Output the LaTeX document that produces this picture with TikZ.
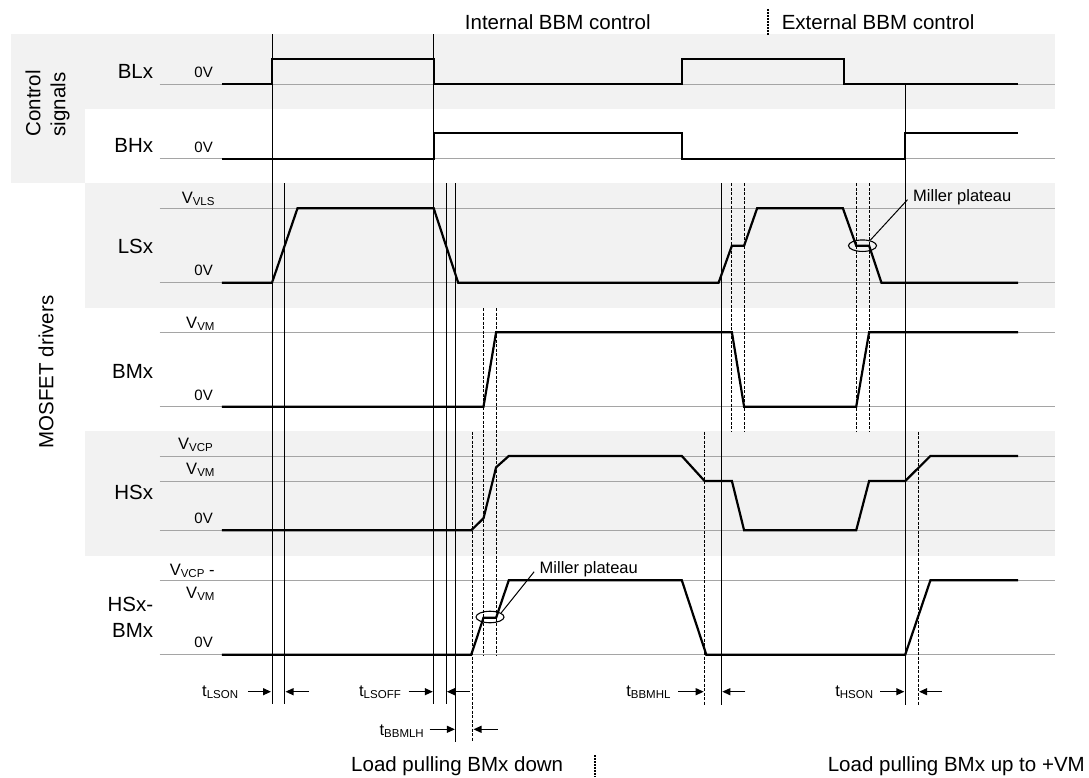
\documentclass[tikz,border=0pt]{standalone}
\usepackage{fontspec}
\setmainfont{Liberation Sans}
\usetikzlibrary{arrows.meta, shapes.geometric}
\definecolor{bandgray}{RGB}{242,242,242}
\definecolor{lvlgray}{RGB}{165,165,165}
\newcommand{\lowsub}[1]{\raisebox{-2pt}{\fontsize{11.5}{12}\selectfont #1}}

\begin{document}
\begin{tikzpicture}[x=1pt, y=-1pt,
  band/.style={fill=bandgray, draw=none},
  lvl/.style={draw=lvlgray, line width=0.9pt},
  wave/.style={draw=black, line width=2.2pt},
  vsolid/.style={draw=black, line width=0.8pt},
  vdash/.style={draw=black, line width=0.9pt, dash pattern=on 3pt off 1.5pt},
  sep/.style={draw=black, line width=1.8pt, dash pattern=on 2pt off 1pt},
  tarr/.style={-{Triangle[length=8pt, width=7pt]}, line width=1.2pt},
  mill/.style={ellipse, draw, line width=1.1pt, minimum width=28pt, minimum height=11.5pt, inner sep=0pt},
  big/.style={inner sep=0pt, font=\fontsize{20.5}{25}\selectfont},
  sname/.style={big, anchor=east, align=right},
  vlab/.style={anchor=base east, inner sep=0pt, font=\fontsize{16.5}{20}\selectfont},
  zlab/.style={anchor=east, inner sep=0pt, font=\fontsize{15}{17}\selectfont},
  tlab/.style={anchor=base east, inner sep=0pt, font=\fontsize{16.5}{20}\selectfont},
  mlab/.style={anchor=west, inner sep=3.5pt, font=\fontsize{16.5}{20}\selectfont}
]
\useasboundingbox (0,0) rectangle (1089,778);

% Background bands
\fill[band] (10.5,34.3) rectangle (1054.7,109);
\fill[band] (10.5,109) rectangle (85.3,183.3);
\fill[band] (85.3,183.3) rectangle (1054.7,307.7);
\fill[band] (85.3,431) rectangle (1054.7,555.7);

% Group labels
\node[big, rotate=90, align=left] (nCtl) at (47.5,103.3) {Control\\signals};
\node[big, rotate=90] (nMos) at (46,372) {MOSFET drivers};

% Level lines
\draw[lvl] (159.6,84.3) -- (1054.7,84.3);
\draw[lvl] (159.6,158.7) -- (1054.7,158.7);
\draw[lvl] (159.6,208.3) -- (1054.7,208.3);
\draw[lvl] (159.6,282.7) -- (1054.7,282.7);
\draw[lvl] (159.6,332.3) -- (1054.7,332.3);
\draw[lvl] (159.6,406.7) -- (1054.7,406.7);
\draw[lvl] (159.6,456) -- (1054.7,456);
\draw[lvl] (159.6,481) -- (1054.7,481);
\draw[lvl] (159.6,530.3) -- (1054.7,530.3);
\draw[lvl] (159.6,580.3) -- (1054.7,580.3);
\draw[lvl] (159.6,654.7) -- (1054.7,654.7);

% Signal names
\node[sname] (nBL) at (153.3,71.7) {BLx};
\node[sname] (nBH) at (153.3,145.7) {BHx};
\node[sname] (nLS) at (153.3,246.7) {LSx};
\node[sname] (nBM) at (153.3,371.7) {BMx};
\node[sname] (nHS) at (153.3,492.3) {HSx};
\node[sname, font=\fontsize{20.5}{26.5}\selectfont] (nHB) at (153.3,617.3) {HSx-\\BMx};

% Level labels
\node[zlab] (zBL) at (213,72.2) {0V};
\node[zlab] (zBH) at (213,147.5) {0V};
\node[zlab] (zLS) at (213,270.5) {0V};
\node[zlab] (zBM) at (213,395.3) {0V};
\node[zlab] (zHS) at (213,518.7) {0V};
\node[zlab] (zHB) at (213,642.5) {0V};
\node[vlab] (vLS) at (214.7,204) {V\lowsub{VLS}};
\node[vlab] (vBM) at (214.7,328.3) {V\lowsub{VM}};
\node[vlab] (vHSa) at (213,449.3) {V\lowsub{VCP}};
\node[vlab] (vHSb) at (214.7,474) {V\lowsub{VM}};
\node[vlab] (vHBa) at (214.7,575) {V\lowsub{VCP} -};
\node[vlab] (vHBb) at (214.7,598.3) {V\lowsub{VM}};

% Timing marks
\draw[vsolid] (272,34.3) -- (272,704);
\draw[vsolid] (284.6,183.3) -- (284.6,704);
\draw[vsolid] (433.7,34.3) -- (433.7,704);
\draw[vsolid] (446,183.3) -- (446,704);
\draw[vsolid] (455.8,183.3) -- (455.8,742);
\draw[vsolid] (721.4,183.3) -- (721.4,705);
\draw[vsolid] (905.2,84.3) -- (905.2,705);
\draw[vdash] (472.6,431.7) -- (472.6,742);
\draw[vdash] (483.5,308) -- (483.5,655);
\draw[vdash] (496.1,308) -- (496.1,655);
\draw[vdash] (704.6,431.7) -- (704.6,705);
\draw[vdash] (731.9,183.3) -- (731.9,431.7);
\draw[vdash] (744.1,183.3) -- (744.1,431.7);
\draw[vdash] (856.9,183.3) -- (856.9,431.7);
\draw[vdash] (869.1,183.3) -- (869.1,431.7);
\draw[vdash] (918.2,431.7) -- (918.2,705);

% Waveforms
\draw[wave] (221.8,84.3) -- (272,84.3) -- (272,59.3) -- (433.7,59.3) -- (433.7,84.3) -- (681.8,84.3)
  -- (681.8,59.3) -- (843.6,59.3) -- (843.6,84.3) -- (1018,84.3);
\draw[wave] (221.8,158.7) -- (433.7,158.7) -- (433.7,133.3) -- (681.8,133.3) -- (681.8,158.7)
  -- (905.2,158.7) -- (905.2,133.3) -- (1018,133.3);
\draw[wave] (221.8,282.7) -- (272,282.7) -- (297.5,208.3) -- (433.7,208.3) -- (458.2,282.7)
  -- (718.6,282.7) -- (731.9,245.7) -- (744.1,245.7) -- (757.1,208.3) -- (842.9,208.3)
  -- (856.2,245.7) -- (869.1,245.7) -- (881.4,282.7) -- (1018,282.7);
\draw[wave] (221.8,406.7) -- (483.5,406.7) -- (496.1,332.3) -- (731.9,332.3) -- (744.1,406.7)
  -- (856.2,406.7) -- (869.1,332.3) -- (1018,332.3);
\draw[wave] (221.8,530.3) -- (471.2,530.3) -- (483.5,518.3) -- (496.1,467.3) -- (508.8,456)
  -- (681.8,456) -- (704.6,481) -- (731.9,481) -- (744.1,530.3) -- (856.2,530.3)
  -- (869.1,481) -- (905.2,481) -- (930.4,456) -- (1018,456);
\draw[wave] (221.8,654.7) -- (471.2,654.7) -- (483.5,617.7) -- (496.1,617.7) -- (508.8,580.3)
  -- (681.8,580.3) -- (706.3,654.7) -- (905.2,654.7) -- (930.4,580.3) -- (1018,580.3);

% Miller plateau callouts
\node[mill] (mp1) at (862.5,245.7) {};
\node[mlab] (mpL1) at (909.5,197.5) {Miller plateau};
\draw[line width=1pt, shorten >=3pt] (mp1.35) -- (mpL1.west);
\node[mill] (mp2) at (490,617) {};
\node[mlab] (mpL2) at (536,569.4) {Miller plateau};
\draw[line width=1pt, shorten >=3pt] (mp2.20) -- (mpL2.west);

% Timing intervals
\node[tlab] (tLSON) at (238.3,696.7) {t\lowsub{LSON}};
\draw[tarr] (247.8,691.7) -- (271,691.7);
\draw[tarr] (309,691.7) -- (285.5,691.7);
\node[tlab] (tLSOFF) at (401,696.7) {t\lowsub{LSOFF}};
\draw[tarr] (408.6,691.7) -- (432.8,691.7);
\draw[tarr] (469.8,691.7) -- (446.9,691.7);
\node[tlab] (tBBMLH) at (424,735) {t\lowsub{BBMLH}};
\draw[tarr] (429.6,729.3) -- (454.9,729.3);
\draw[tarr] (497.7,729.3) -- (473.5,729.3);
\node[tlab] (tBBMHL) at (670.7,696.7) {t\lowsub{BBMHL}};
\draw[tarr] (678.4,691.7) -- (703.7,691.7);
\draw[tarr] (745.4,691.7) -- (722.3,691.7);
\node[tlab] (tHSON) at (873.3,696.7) {t\lowsub{HSON}};
\draw[tarr] (880,691.7) -- (904.3,691.7);
\draw[tarr] (941.7,691.7) -- (919.1,691.7);

% Mode captions
\node[big, anchor=base] (capInt) at (557.8,29.3) {Internal BBM control};
\node[big, anchor=base west] (capExt) at (781.6,29.3) {External BBM control};
\draw[sep] (768.3,9) -- (768.3,35);
\node[big, anchor=base] (capDown) at (457.2,771.7) {Load pulling BMx down};
\node[big, anchor=base east] (capUp) at (1085,771.7) {Load pulling BMx up to +VM};
\draw[sep] (595.3,755) -- (595.3,776.7);

\end{tikzpicture}
\end{document}
